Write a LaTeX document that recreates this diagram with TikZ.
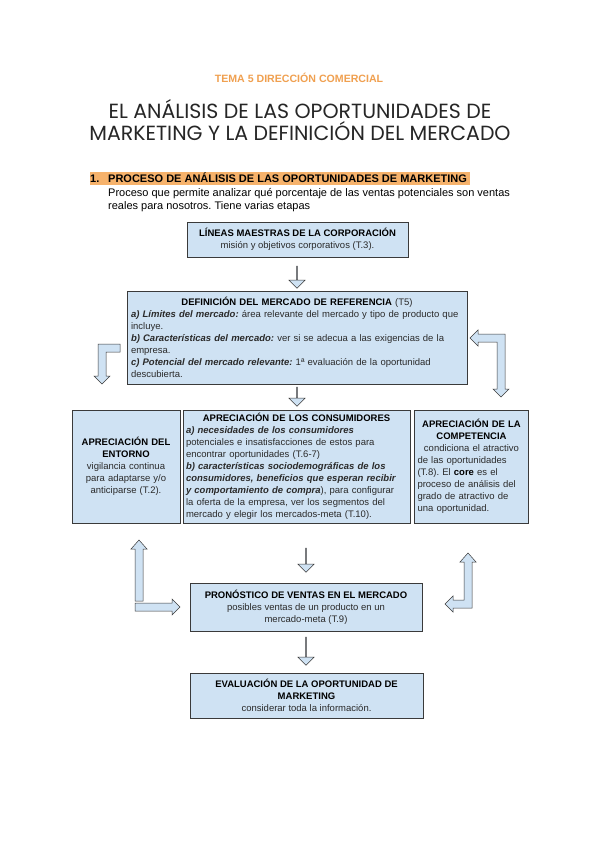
\documentclass[tikz,border=0pt]{standalone}
\usepackage{fontspec}
\setmainfont{Liberation Sans}
\newfontfamily\titlefont{Poppins}
\usetikzlibrary{shapes.arrows}
\frenchspacing
\definecolor{boxblue}{HTML}{CFE2F3}
\definecolor{hiorange}{HTML}{F6B26B}
\definecolor{txtorange}{HTML}{F0A050}
\definecolor{edgegray}{HTML}{3A3A3A}
\definecolor{bodygray}{HTML}{2A2A2A}
\tikzset{
  box/.style={draw=edgegray, fill=boxblue, line width=0.8pt, inner sep=3pt,
    text=bodygray, font=\fontsize{9.5}{12}\selectfont},
  downarrow/.style={single arrow, draw=edgegray, fill=boxblue, line width=0.5pt,
    single arrow head extend=4pt, minimum width=16pt, inner sep=0pt, rotate=-90},
  blockarrow/.style={draw=edgegray, fill=boxblue, line width=0.5pt, line join=miter},
  bodytext/.style={anchor=base west, inner sep=0pt, font=\fontsize{11}{13.5}\selectfont},
}
\newcommand{\ctr}[1]{\makebox[\hsize][c]{#1}}
\begin{document}
\frenchspacing
\begin{tikzpicture}[x=1pt,y=-1pt]
\useasboundingbox (0,0) rectangle (600,848);
\fill[white] (0,0) rectangle (600,848);

% headings
\node[text=txtorange, font=\fontsize{10.6}{12}\selectfont\bfseries] (tema) at (299,78) {TEMA 5 DIRECCIÓN COMERCIAL};
\node[align=center, font=\titlefont\fontsize{20.5}{22}\selectfont, text=black!85] (titulo) at (300,120.5)
  {EL ANÁLISIS DE LAS OPORTUNIDADES DE\\MARKETING Y LA DEFINICIÓN DEL MERCADO};
\fill[hiorange] (90,171.5) rectangle (470,185);
\node[bodytext, font=\fontsize{11}{12}\selectfont\bfseries] (num) at (90,182.5) {1.};
\node[bodytext, font=\fontsize{11}{12}\selectfont\bfseries] (sec) at (108,182.5)
  {PROCESO DE ANÁLISIS DE LAS OPORTUNIDADES DE MARKETING};
\node[bodytext] (parr1) at (108,196)
  {Proceso que permite analizar qué porcentaje de las ventas potenciales son ventas};
\node[bodytext] (parr2) at (108,209.5)
  {reales para nosotros. Tiene varias etapas};

% boxes
\node[box, minimum width=221pt, minimum height=35pt, align=center] (lineas) at (297.5,239.5)
  {\textbf{\color{black}LÍNEAS MAESTRAS DE LA CORPORACIÓN}\\misión y objetivos corporativos (T.3).};
\node[box, minimum width=340pt, minimum height=93pt, text width=332pt, align=left] (defin) at (297,337.5)
  {\ctr{\textbf{\color{black}DEFINICIÓN DEL MERCADO DE REFERENCIA} (T5)}\\
   \textbf{\textit{a) Límites del mercado:}} área relevante del mercado y tipo de producto que\\
   incluye.\\
   \textbf{\textit{b) Características del mercado:}} ver si se adecua a las exigencias de la\\
   empresa.\\
   \textbf{\textit{c) Potencial del mercado relevante:}} 1ª evaluación de la oportunidad\\
   descubierta.};
\node[box, minimum width=106pt, minimum height=113pt, text width=102pt, align=center] (entorno) at (126,466.5)
  {\textbf{\color{black}APRECIACIÓN DEL}\\\textbf{\color{black}ENTORNO}\\vigilancia continua\\para adaptarse y/o\\anticiparse (T.2).};
\node[box, minimum width=225pt, minimum height=113pt, text width=221pt, align=left] (consum) at (296.5,466.5)
  {\ctr{\textbf{\color{black}APRECIACIÓN DE LOS CONSUMIDORES}}\\
   \textbf{\textit{a) necesidades de los consumidores}}\\
   potenciales e insatisfacciones de estos para\\
   encontrar oportunidades (T.6-7)\\
   \textbf{\textit{b) características sociodemográficas de los}}\\
   \textbf{\textit{consumidores, beneficios que esperan recibir}}\\
   \textbf{\textit{y comportamiento de compra}}), para configurar\\
   la oferta de la empresa, ver los segmentos del\\
   mercado y elegir los mercados-meta (T.10).};
\node[box, minimum width=113pt, minimum height=113pt, text width=108pt, align=left] (compet) at (471.5,466.5)
  {\ctr{\textbf{\color{black}APRECIACIÓN DE LA}}\\
   \ctr{\textbf{\color{black}COMPETENCIA}}\\
   \ctr{condiciona el atractivo}\\
   de las oportunidades\\
   (T.8). El \textbf{\color{black}core} es el\\
   proceso de análisis del\\
   grado de atractivo de\\
   una oportunidad.};
\node[box, minimum width=232pt, minimum height=48pt, align=center] (pronos) at (306,607)
  {\textbf{\color{black}PRONÓSTICO DE VENTAS EN EL MERCADO}\\posibles ventas de un producto en un\\mercado-meta (T.9)};
\node[box, minimum width=233pt, minimum height=45pt, align=center] (evalua) at (306.5,695.5)
  {\textbf{\color{black}EVALUACIÓN DE LA OPORTUNIDAD DE}\\\textbf{\color{black}MARKETING}\\considerar toda la información.};

% straight block arrows
\node[downarrow, minimum height=22pt] (fl1) at (297,277) {};
\node[downarrow, minimum height=19pt] (fl2) at (297,396.5) {};
\node[downarrow, minimum height=24pt] (fl3) at (306,560) {};
\node[downarrow, minimum height=28pt] (fl4) at (306,651) {};

% bent block arrows
\draw[blockarrow] (120,344) -- (98,344) -- (98,376) -- (94,376) -- (102,384) -- (110,376)
  -- (106,376) -- (106,352) -- (120,352) -- cycle;
\draw[blockarrow] (505,334) -- (478,334) -- (478,330) -- (470,338) -- (478,346) -- (478,342)
  -- (497,342) -- (497,389) -- (493,389) -- (501,397) -- (509,389) -- (505,389) -- cycle;
\draw[blockarrow] (135,601) -- (135,549) -- (131,549) -- (139,540) -- (147,549) -- (143,549)
  -- (143,601) -- cycle;
\draw[blockarrow] (135,603) -- (172,603) -- (172,599) -- (180,607) -- (172,615) -- (172,611)
  -- (135,611) -- cycle;
\draw[blockarrow] (472,608) -- (472,562) -- (476,562) -- (468,553) -- (460,562) -- (464,562)
  -- (464,600) -- (453,600) -- (453,596) -- (445,604) -- (453,612) -- (453,608) -- cycle;
\end{tikzpicture}
\end{document}
